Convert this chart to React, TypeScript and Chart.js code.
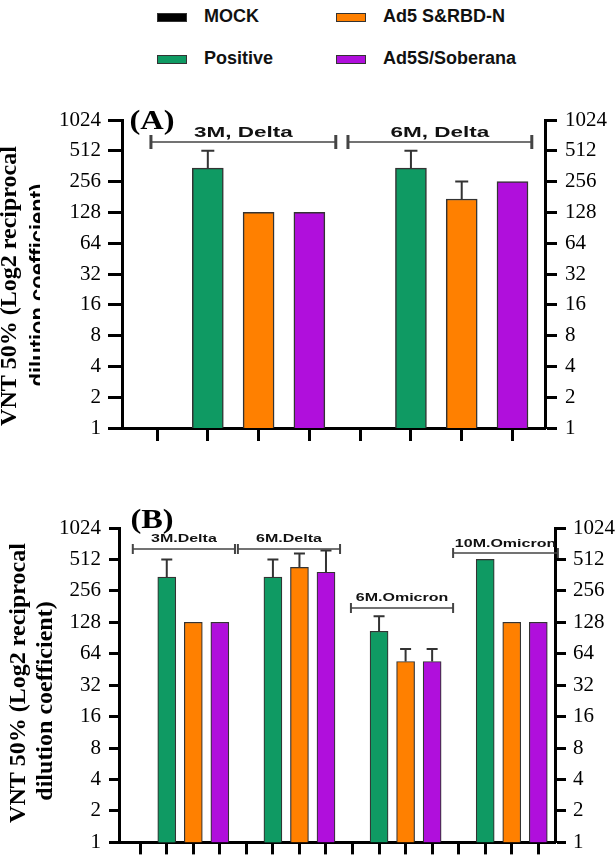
import React, { useEffect, useRef } from "react";
import { Chart, registerables } from "chart.js";
Chart.register(...registerables);

// ---------- data ----------
const SERIES = ["MOCK", "Positive", "Ad5 S&RBD-N", "Ad5S/Soberana"];
const COLORS = ["#000000", "#0f9a63", "#ff8000", "#b00fdc"];
const Y_TICKS = [1, 2, 4, 8, 16, 32, 64, 128, 256, 512, 1024];
const Y_TITLE_1 = "VNT 50% (Log2 reciprocal";
const Y_TITLE_2A = "dilution coefficient)";
const Y_TITLE_2B = "dilution coefficient)";

// Panel A
const GROUPS_A = ["3M, Delta", "6M, Delta"];
const MOCK_A = [1, 1];
const POSITIVE_A = [347, 347];
const AD5_A = [128, 173];
const SOBERANA_A = [128, 256];
const MOCK_ERR_A = [null, null];
const POSITIVE_ERR_A = [512, 512];
const AD5_ERR_A = [null, 256];
const SOBERANA_ERR_A = [null, null];
const BRACKET_FROM_A = [-0.12, 3.76];
const BRACKET_TO_A = [3.52, 7.38];

// Panel B
const GROUPS_B = ["3M.Delta", "6M.Delta", "6M.Omicron", "10M.Omicron"];
const MOCK_B = [1, 1, 1, 1];
const POSITIVE_B = [347, 347, 105, 512];
const AD5_B = [128, 430, 54, 128];
const SOBERANA_B = [128, 386, 54, 128];
const MOCK_ERR_B = [null, null, null, null];
const POSITIVE_ERR_B = [512, 512, 146, null];
const AD5_ERR_B = [null, 583, 71, null];
const SOBERANA_ERR_B = [null, 622, 71, null];
const BRACKET_FROM_B = [-0.28, 3.68, 7.94, 11.79];
const BRACKET_TO_B = [3.57, 7.53, 11.79, 15.74];

// ---------- layout ----------
const PANEL_A = {
  id: "A", letter: "(A)",
  top: 90, height: 370, axisLeft: 122, axisRight: 545, plotTop: 120, plotBottom: 428,
  xMin: -0.69, xMax: 7.64, bar: 31, borderW: 1.5,
  leftTick: 14, rightTick: 12, leftPad: 7, rightPad: 8, xTick: 13, tickFont: 21,
  groups: GROUPS_A, values: [MOCK_A, POSITIVE_A, AD5_A, SOBERANA_A],
  errs: [MOCK_ERR_A, POSITIVE_ERR_A, AD5_ERR_A, SOBERANA_ERR_A],
  from: BRACKET_FROM_A, to: BRACKET_TO_A,
  bracketY: [142, 142], textY: [137, 137], textFont: 15, textScale: 1.5, capH: 7, capW: 3, capErr: 13,
  letterX: 152, letterY: 129, letterFont: 27,
  t1x: 10, t1y: 286, t2x: 39, t2y: 285, t2Font: "bold 22px 'Liberation Sans', Arial, sans-serif", t2Clip: 40,
  title2: Y_TITLE_2A,
};
const PANEL_B = {
  id: "B", letter: "(B)",
  top: 490, height: 373, axisLeft: 119, axisRight: 555, plotTop: 528, plotBottom: 848,
  xMin: -0.8, xMax: 15.63, bar: 18, borderW: 1.2,
  leftTick: 10, rightTick: 11, leftPad: 8, rightPad: 7, xTick: 12, tickFont: 21,
  groups: GROUPS_B, values: [MOCK_B, POSITIVE_B, AD5_B, SOBERANA_B],
  errs: [MOCK_ERR_B, POSITIVE_ERR_B, AD5_ERR_B, SOBERANA_ERR_B],
  from: BRACKET_FROM_B, to: BRACKET_TO_B,
  bracketY: [549, 549, 608, 553], textY: [542, 542, 601, 547], textFont: 10, textScale: 1.6, capH: 5, capW: 2, capErr: 11,
  letterX: 152, letterY: 528, letterFont: 27,
  t1x: 19, t1y: 683, t2x: 46, t2y: 701, t2Font: "bold 24px 'Liberation Serif', 'Times New Roman', serif", t2Clip: 0,
  title2: Y_TITLE_2B,
};

const SERIF = "'Liberation Serif', 'Times New Roman', serif";
const SANS = "'Liberation Sans', Arial, sans-serif";

function makeChart(canvas: HTMLCanvasElement, p: any) {
  const W = 616;
  const nCat = p.groups.length * 4;
  const xTicks = Array.from({ length: nCat }, (_, i) => i);
  const datasets = SERIES.map((name, k) => ({
    label: name,
    data: p.values[k].map((v: number, g: number) => ({ x: g * 4 + k, y: v })),
    backgroundColor: COLORS[k],
    borderColor: "#333333",
    borderWidth: k === 0 ? 0 : p.borderW,
    barThickness: p.bar,
    grouped: false,
  }));

  const yAxis = (pos: string, width: number, tick: number, pad: number) => ({
    type: "logarithmic",
    position: pos,
    min: 1,
    max: 1024,
    afterBuildTicks: (s: any) => {
      s.ticks = Y_TICKS.map((v) => ({ value: v }));
    },
    afterFit: (s: any) => {
      s.width = width;
    },
    ticks: {
      callback: (v: any) => String(v),
      autoSkip: false,
      color: "#000",
      padding: pad,
      font: { family: SERIF, size: p.tickFont },
    },
    grid: { drawOnChartArea: false, drawTicks: true, tickLength: tick, tickWidth: 3, tickColor: "#000", color: "#000" },
    border: { display: true, color: "#000", width: 3 },
  });

  const annot = {
    id: "annot" + p.id,
    afterDatasetsDraw(chart: any) {
      const ctx = chart.ctx;
      const ys = chart.scales.y;
      ctx.save();
      ctx.strokeStyle = "#333";
      ctx.lineWidth = 2;
      for (let k = 0; k < SERIES.length; k++) {
        const meta = chart.getDatasetMeta(k);
        meta.data.forEach((el: any, j: number) => {
          const e = p.errs[k][j];
          if (e == null) return;
          const yE = ys.getPixelForValue(e);
          ctx.beginPath();
          ctx.moveTo(el.x, el.y);
          ctx.lineTo(el.x, yE);
          ctx.moveTo(el.x - p.capErr / 2, yE);
          ctx.lineTo(el.x + p.capErr / 2, yE);
          ctx.stroke();
        });
      }
      ctx.restore();
    },
    afterDraw(chart: any) {
      const ctx = chart.ctx;
      const xs = chart.scales.x;
      const off = p.top;
      ctx.save();
      // brackets + group labels
      p.groups.forEach((g: string, i: number) => {
        const x0 = xs.getPixelForValue(p.from[i]);
        const x1 = xs.getPixelForValue(p.to[i]);
        const by = p.bracketY[i] - off;
        ctx.strokeStyle = "#444";
        ctx.lineWidth = 1.5;
        ctx.beginPath();
        ctx.moveTo(x0, by);
        ctx.lineTo(x1, by);
        ctx.stroke();
        ctx.lineWidth = p.capW;
        ctx.beginPath();
        ctx.moveTo(x0, by - p.capH);
        ctx.lineTo(x0, by + p.capH);
        ctx.moveTo(x1, by - p.capH);
        ctx.lineTo(x1, by + p.capH);
        ctx.stroke();
        ctx.save();
        ctx.translate((x0 + x1) / 2, p.textY[i] - off);
        ctx.scale(p.textScale, 1);
        ctx.font = `bold ${p.textFont}px ${SANS}`;
        ctx.fillStyle = "#111";
        ctx.textAlign = "center";
        ctx.textBaseline = "alphabetic";
        ctx.fillText(g, 0, 0);
        ctx.restore();
      });
      // panel letter
      ctx.save();
      ctx.translate(p.letterX, p.letterY - off);
      ctx.scale(1.2, 1);
      ctx.font = `bold ${p.letterFont}px ${SERIF}`;
      ctx.fillStyle = "#000";
      ctx.textAlign = "center";
      ctx.textBaseline = "alphabetic";
      ctx.fillText(p.letter, 0, 0);
      ctx.restore();
      // y titles
      const rot = (text: string, cx: number, cy: number, font: string, clip: number) => {
        ctx.save();
        if (clip) {
          ctx.beginPath();
          ctx.rect(0, 0, clip, chart.height);
          ctx.clip();
        }
        ctx.translate(cx, cy - off);
        ctx.rotate(-Math.PI / 2);
        ctx.font = font;
        ctx.fillStyle = "#000";
        ctx.textAlign = "center";
        ctx.textBaseline = "middle";
        ctx.fillText(text, 0, 0);
        ctx.restore();
      };
      rot(Y_TITLE_1, p.t1x, p.t1y, `bold 24px ${SERIF}`, 0);
      rot(p.title2, p.t2x, p.t2y, p.t2Font, p.t2Clip);
      ctx.restore();
    },
  };

  return new Chart(canvas, {
    type: "bar",
    data: { datasets } as any,
    options: {
      responsive: false,
      animation: false,
      events: [],
      layout: {
        padding: {
          top: p.plotTop - p.top,
          bottom: p.height - (p.plotBottom - p.top) - p.xTick,
          left: 0,
          right: 0,
        },
      },
      plugins: { legend: { display: false }, tooltip: { enabled: false } },
      scales: {
        x: {
          type: "linear",
          min: p.xMin,
          max: p.xMax,
          offset: false,
          afterBuildTicks: (s: any) => {
            s.ticks = xTicks.map((v) => ({ value: v }));
          },
          afterFit: (s: any) => {
            s.height = p.xTick;
          },
          ticks: { display: false },
          grid: { offset: false, drawOnChartArea: false, drawTicks: true, tickLength: p.xTick, tickWidth: 3, tickColor: "#000", color: "#000" },
          border: { display: true, color: "#000", width: 3 },
        },
        y: yAxis("left", p.axisLeft, p.leftTick, p.leftPad),
        y2: yAxis("right", W - p.axisRight, p.rightTick, p.rightPad),
      } as any,
    },
    plugins: [annot],
  } as any);
}

function Panel({ p }: { p: any }) {
  const ref = useRef<HTMLCanvasElement>(null);
  useEffect(() => {
    if (!ref.current) return;
    const c = makeChart(ref.current, p);
    return () => c.destroy();
  }, []);
  return (
    <canvas
      ref={ref}
      width={616}
      height={p.height}
      style={{ position: "absolute", left: 0, top: p.top, width: 616, height: p.height }}
    />
  );
}

const LEGEND_POS = [
  { sx: 157, tx: 204, cy: 17 },
  { sx: 157, tx: 204, cy: 59 },
  { sx: 336, tx: 383, cy: 17 },
  { sx: 336, tx: 383, cy: 59 },
];

export default function App() {
  return (
    <div style={{ position: "absolute", left: 0, top: 0, width: 616, height: 863, background: "#fff", overflow: "hidden" }}>
      {SERIES.map((name, k) => {
        const pos = LEGEND_POS[k];
        return (
          <React.Fragment key={name}>
            <div
              style={{
                position: "absolute",
                left: pos.sx,
                top: pos.cy - 4.5,
                width: 30,
                height: 9,
                background: COLORS[k],
                border: "1px solid #333",
                boxSizing: "border-box",
              }}
            />
            <div
              style={{
                position: "absolute",
                left: pos.tx,
                top: pos.cy - 11,
                height: 22,
                lineHeight: "22px",
                font: `bold 18px ${SANS}`,
                color: "#111",
                whiteSpace: "nowrap",
              }}
            >
              {name}
            </div>
          </React.Fragment>
        );
      })}
      <Panel p={PANEL_A} />
      <Panel p={PANEL_B} />
    </div>
  );
}
